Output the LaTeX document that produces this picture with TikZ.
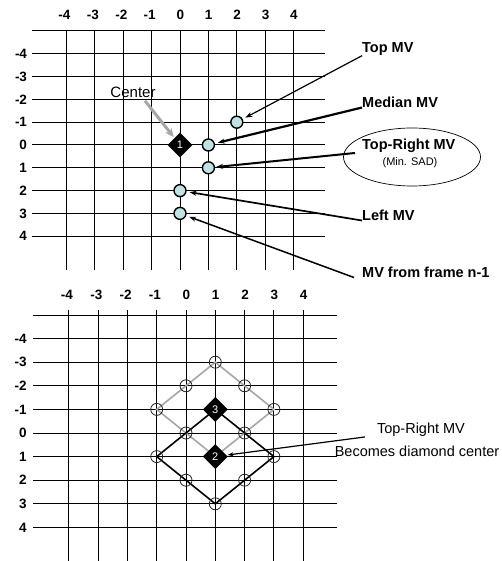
\documentclass[tikz,border=0pt]{standalone}
\usepackage{fontspec}
\setmainfont{Liberation Sans}
\usetikzlibrary{arrows.meta,positioning,shapes.geometric}
\definecolor{DotCyan}{HTML}{BFE3E3}
\definecolor{EdgeGray}{HTML}{A6A6A6}
\tikzset{
  gridline/.style={line width=1pt, black},
  axislabel/.style={font=\fontsize{13.5}{15}\selectfont\bfseries, inner sep=0pt},
  mvdot/.style={circle, draw=black, line width=1.4pt, fill=DotCyan, minimum size=12pt, inner sep=0pt},
  opendot/.style={circle, draw=black!85, line width=0.8pt, minimum size=12pt, inner sep=0pt},
  centerdia/.style={diamond, fill=black, text=white, minimum size=25pt, inner sep=0pt, font=\fontsize{11}{13}\selectfont},
  mvlabel/.style={font=\fontsize{14.5}{16}\selectfont\bfseries, inner sep=0pt, anchor=west},
  pointer/.style={-{Stealth[length=7pt,width=5pt]}, line width=1.4pt, shorten >=3pt},
  grayedge/.style={EdgeGray, line width=1.6pt},
  blackedge/.style={black, line width=1.6pt},
}

\begin{document}
\begin{tikzpicture}[x=1pt, y=-1pt]
  \path[use as bounding box] (0,0) rectangle (501,561);

  % Upper grid: candidate predictors
  \begin{scope}[shift={(180,145)}, x=28.4pt, y=-22.8pt]
    \foreach \r in {-5,...,4} \draw[gridline] (-5.2,\r) -- (5.1,\r);
    \foreach \c in {-4,...,4} \draw[gridline] (\c,-5.05) -- (\c,5.5);
    \foreach \c in {-4,...,4} \node[axislabel, anchor=east] at (\c+0.15,-5.7) {\c};
    \foreach \r in {-4,...,4} \node[axislabel, anchor=east] at (-5.38,\r) {\r};

    \node[centerdia] (ctr) at (0,0) {1};
    \node[mvdot] (topmv) at (2,-1) {};
    \node[mvdot] (medmv) at (1,0) {};
    \node[mvdot] (trmv) at (1,1) {};
    \node[mvdot] (leftmv) at (0,2) {};
    \node[mvdot] (prevmv) at (0,3) {};
  \end{scope}

  % Predictor labels
  \node[font=\fontsize{15}{17}\selectfont] (ctrlbl) at (133,92) {Center};
  \node[mvlabel] (topmvlbl) at (362,49) {Top MV};
  \node[mvlabel] (medmvlbl) at (362,102) {Median MV};
  \node[ellipse, draw, line width=0.7pt, minimum width=137pt, minimum height=58pt] (trbox) at (412,157) {};
  \node[mvlabel] (trmvlbl) at (362,146) {Top-Right MV};
  \node[font=\fontsize{11}{13}\selectfont, inner sep=0pt] (sadlbl) at (410,163) {(Min. SAD)};
  \node[mvlabel] (leftmvlbl) at (362,215) {Left MV};
  \node[mvlabel] (prevmvlbl) at (362,272) {MV from frame n-1};

  \draw[-{Stealth[length=9pt,width=8pt]}, EdgeGray, line width=3pt, shorten >=1pt] ([xshift=12pt]ctrlbl.south) -- (ctr);
  \draw[pointer, line width=1.2pt] (topmvlbl.south west) -- (topmv);
  \draw[pointer, line width=2.2pt] (medmvlbl.south west) -- (medmv);
  \draw[pointer, line width=2pt, shorten >=1pt] ([xshift=-7pt]trmvlbl.south west) -- (trmv);
  \draw[pointer, line width=1.7pt] (leftmvlbl.south west) -- (leftmv);
  \draw[pointer, line width=1.5pt] ([xshift=-8pt]prevmvlbl.south west) -- (prevmv);

  % Lower grid: diamond search
  \begin{scope}[shift={(186,433)}, x=29.3pt, y=-23.6pt]
    \foreach \r in {-5,...,4} \draw[gridline] (-5.22,\r) -- (5.15,\r);
    \foreach \c in {-4,...,4} \draw[gridline] (\c,-5.2) -- (\c,5.45);
    \foreach \c in {-4,...,4} \node[axislabel, anchor=east] at (\c+0.15,-5.85) {\c};
    \foreach \r in {-4,...,4} \node[axislabel, anchor=east] at (-5.43,\r) {\r};

    \coordinate (gN) at (1,-3);
    \coordinate (gW) at (-1,-1);
    \coordinate (gE) at (3,-1);
    \coordinate (mid3) at (1,-1);
    \coordinate (mid2) at (1,1);
    \coordinate (bW) at (-1,1);
    \coordinate (bE) at (3,1);
    \coordinate (bS) at (1,3);

    \draw[grayedge] (gW) -- (gN) -- (gE) -- (mid2) -- cycle;
    \draw[blackedge] (bW) -- (mid3) -- (bE) -- (bS) -- cycle;

    \foreach \p in {gN,gW,gE,bW,bE,bS} \node[opendot] (c-\p) at (\p) {};
    \foreach \x/\y/\n in {0/-2/nw,2/-2/ne,0/0/mw,2/0/me,0/2/sw,2/2/se}
      \node[opendot] (c-\n) at (\x,\y) {};

    \node[centerdia] (dthree) at (mid3) {3};
    \node[centerdia] (dtwo) at (mid2) {2};
  \end{scope}

  % New diamond centre
  \node[font=\fontsize{14.5}{16}\selectfont, inner sep=0pt] (trnote) at (421,430) {Top-Right MV};
  \node[font=\fontsize{14.5}{16}\selectfont, inner sep=0pt, below=9pt of trnote, xshift=-4pt] (becomes) {Becomes diamond center};
  \draw[-{Stealth[length=6pt,width=4pt]}, line width=1.2pt, shorten >=1pt] ([xshift=-12pt]trnote.south west) -- (dtwo);
\end{tikzpicture}
\end{document}
